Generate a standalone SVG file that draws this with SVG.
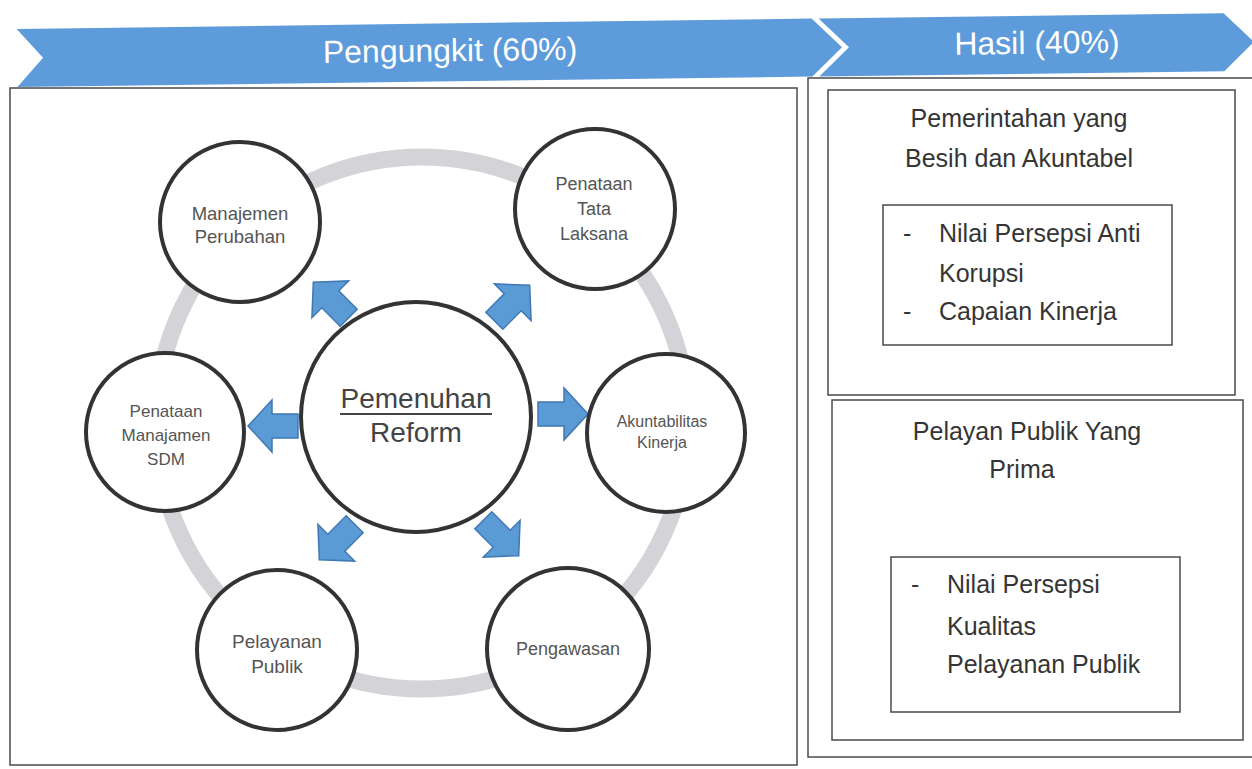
<svg xmlns="http://www.w3.org/2000/svg" width="1252" height="769" viewBox="0 0 1252 769">
<style>
  .banner{fill:#5d9bdb}
  .btxt{font-family:"Liberation Sans",Arial,sans-serif;font-size:32px;fill:#ffffff;text-anchor:middle}
  .panel{fill:#ffffff;stroke:#4a4a4a;stroke-width:1.5}
  .node{fill:#ffffff;stroke:#333333;stroke-width:4}
  .ntxt{font-family:"Liberation Sans",Arial,sans-serif;font-size:18px;fill:#555555;text-anchor:middle}
  .ctxt{font-family:"Liberation Sans",Arial,sans-serif;font-size:28px;fill:#444444;text-anchor:middle}
  .ptxt{font-family:"Liberation Sans",Arial,sans-serif;font-size:25px;fill:#353535}
  .ring{fill:none;stroke:#d4d4d8;stroke-width:17}
  .arrow{fill:#5b9bd5;stroke:#3f78b5;stroke-width:1.5;stroke-linejoin:miter}
</style>
<defs>
  <polygon id="blk" points="-25,-12 1,-12 1,-26 25,0 1,26 1,12 -25,12"/>
</defs>
<rect width="1252" height="769" fill="#ffffff"/>

<g id="banner" transform="rotate(-0.75 630 50)">
  <polygon class="banner" points="17,21 812,21 842,50 812,79 17,79 43,50"/>
  <polygon class="banner" points="819,21 1224,21 1254,50 1224,79 819,79 849,50"/>
  <text class="btxt" x="450" y="59">Pengungkit (60%)</text>
  <text class="btxt" x="1037" y="59">Hasil (40%)</text>
</g>

<g id="left-panel">
  <rect class="panel" x="10" y="88" width="787" height="677"/>
</g>

<g id="right-panel">
  <rect class="panel" x="808" y="78" width="446" height="679"/>
</g>

<g id="hasil-1">
  <rect class="panel" x="828" y="90" width="407" height="305"/>
  <text class="ptxt" x="1019" y="127" text-anchor="middle">Pemerintahan yang</text>
  <text class="ptxt" x="1019" y="167" text-anchor="middle">Besih dan Akuntabel</text>
  <rect class="panel" x="883" y="205" width="289" height="140"/>
  <text class="ptxt" x="903" y="242">-</text>
  <text class="ptxt" x="939" y="242">Nilai Persepsi Anti</text>
  <text class="ptxt" x="939" y="282">Korupsi</text>
  <text class="ptxt" x="903" y="320">-</text>
  <text class="ptxt" x="939" y="320">Capaian Kinerja</text>
</g>

<g id="hasil-2">
  <rect class="panel" x="832" y="400" width="411" height="340"/>
  <text class="ptxt" x="1027" y="440" text-anchor="middle">Pelayan Publik Yang</text>
  <text class="ptxt" x="1022" y="478" text-anchor="middle">Prima</text>
  <rect class="panel" x="891" y="557" width="289" height="155"/>
  <text class="ptxt" x="911" y="593">-</text>
  <text class="ptxt" x="947" y="593">Nilai Persepsi</text>
  <text class="ptxt" x="947" y="635">Kualitas</text>
  <text class="ptxt" x="947" y="673">Pelayanan Publik</text>
</g>

<g id="ring">
  <circle class="ring" cx="422" cy="423" r="266"/>
</g>

<g id="connectors">
  <use href="#blk" class="arrow" transform="translate(273 426) rotate(180)"/>
  <use href="#blk" class="arrow" transform="translate(563 414)"/>
  <use href="#blk" class="arrow" transform="translate(331 300) rotate(-135)"/>
  <use href="#blk" class="arrow" transform="translate(512 303) rotate(-45)"/>
  <use href="#blk" class="arrow" transform="translate(337 542) rotate(135)"/>
  <use href="#blk" class="arrow" transform="translate(501 538) rotate(45)"/>
</g>

<g id="center">
  <circle class="node" cx="416" cy="417" r="115"/>
  <text class="ctxt" x="416" y="408">Pemenuhan</text>
  <line x1="340" y1="414" x2="492" y2="414" stroke="#444444" stroke-width="2"/>
  <text class="ctxt" x="416" y="442">Reform</text>
</g>

<g id="manajemen-perubahan">
  <circle class="node" cx="240" cy="222" r="80"/>
  <text class="ntxt" x="240" y="220" style="font-size:18.5px">Manajemen</text>
  <text class="ntxt" x="240" y="243" style="font-size:18.5px">Perubahan</text>
</g>

<g id="penataan-tata-laksana">
  <circle class="node" cx="595" cy="209" r="80"/>
  <text class="ntxt" x="594" y="190">Penataan</text>
  <text class="ntxt" x="594" y="215">Tata</text>
  <text class="ntxt" x="594" y="240">Laksana</text>
</g>

<g id="penataan-sdm">
  <circle class="node" cx="165" cy="432" r="79"/>
  <text class="ntxt" x="166" y="417" style="font-size:17px">Penataan</text>
  <text class="ntxt" x="166" y="441" style="font-size:17px">Manajamen</text>
  <text class="ntxt" x="166" y="465" style="font-size:17px">SDM</text>
</g>

<g id="akuntabilitas-kinerja">
  <circle class="node" cx="666" cy="433" r="79"/>
  <text class="ntxt" x="662" y="427" style="font-size:16px">Akuntabilitas</text>
  <text class="ntxt" x="662" y="448" style="font-size:16px">Kinerja</text>
</g>

<g id="pelayanan-publik">
  <circle class="node" cx="277" cy="650" r="80"/>
  <text class="ntxt" x="277" y="648" style="font-size:19px">Pelayanan</text>
  <text class="ntxt" x="277" y="673" style="font-size:19px">Publik</text>
</g>

<g id="pengawasan">
  <circle class="node" cx="568" cy="649" r="81"/>
  <text class="ntxt" x="568" y="655">Pengawasan</text>
</g>
</svg>
